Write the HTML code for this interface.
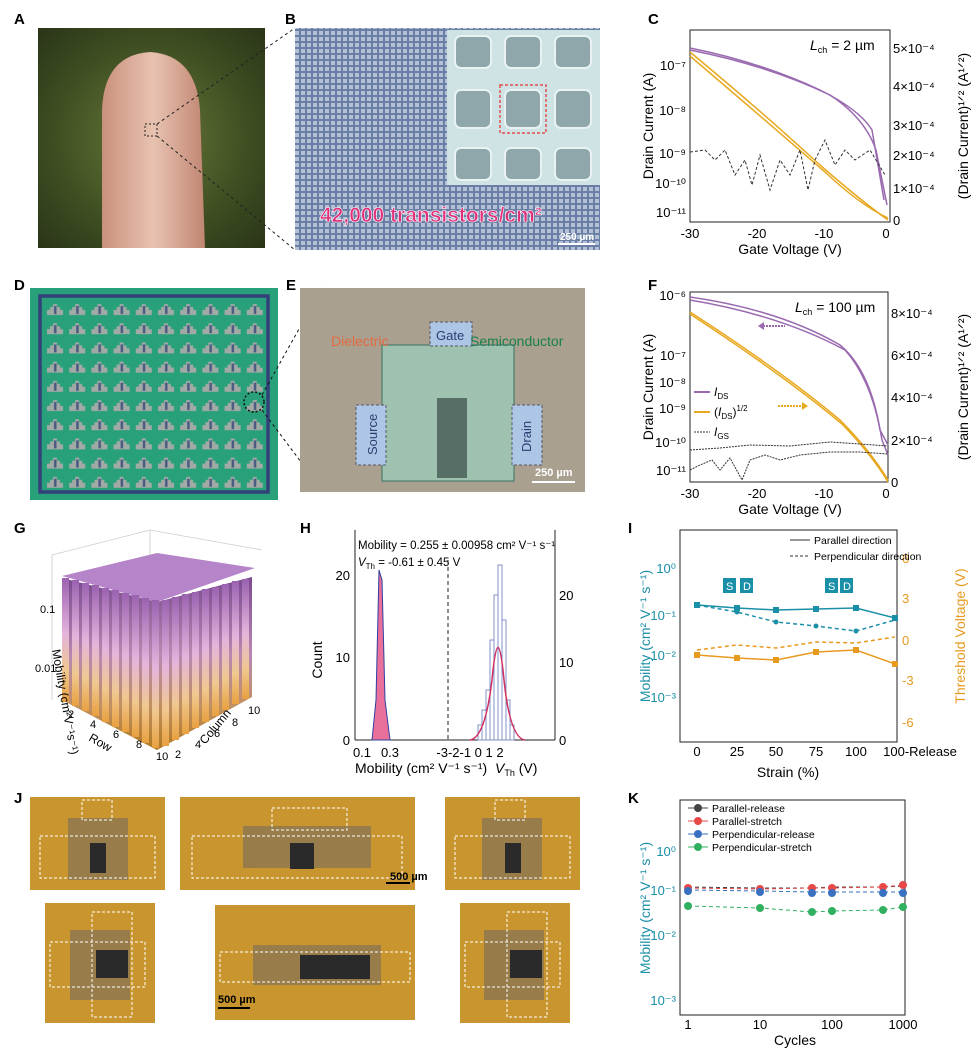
<!DOCTYPE html>
<html><head><meta charset="utf-8"><style>
html,body{margin:0;padding:0;background:#fff;}
svg{display:block;font-family:"Liberation Sans",Arial,sans-serif;}
.lbl{font-size:15px;font-weight:bold;}
.ax{font-size:13px;}
</style></head><body>
<svg width="980" height="1051" viewBox="0 0 980 1051" xmlns="http://www.w3.org/2000/svg">
<defs>
<radialGradient id="bgA" cx="0.5" cy="0.5" r="0.7"><stop offset="0" stop-color="#6b7a3a"/><stop offset="0.6" stop-color="#3f4f22"/><stop offset="1" stop-color="#2a3518"/></radialGradient>
<linearGradient id="fing" x1="0" x2="1"><stop offset="0" stop-color="#c9917c"/><stop offset="0.5" stop-color="#e8c2b0"/><stop offset="1" stop-color="#c08672"/></linearGradient>
<pattern id="grid" width="6" height="6" patternUnits="userSpaceOnUse"><rect width="6" height="6" fill="#6a7fa6"/><rect x="1" y="1" width="4" height="4" fill="#b3c0d6"/></pattern>
<pattern id="gridD" x="44" y="300" width="22.2" height="19.2" patternUnits="userSpaceOnUse"><rect width="22.2" height="19.2" fill="#28a07a"/><path d="M3 15v-5h3v-3h3v-3h4v3h3v3h3v5z" fill="#a2aaa6"/><rect x="10" y="6" width="2.5" height="8" fill="#4a5a80"/></pattern>
<linearGradient id="barL" x1="0" y1="0" x2="0" y2="1"><stop offset="0" stop-color="#9a62b0"/><stop offset="0.45" stop-color="#e4b4dc"/><stop offset="0.75" stop-color="#f0c890"/><stop offset="1" stop-color="#e8a040"/></linearGradient>
<linearGradient id="barD" x1="0" y1="0" x2="0" y2="1"><stop offset="0" stop-color="#7a4a90"/><stop offset="0.45" stop-color="#b888b0"/><stop offset="0.75" stop-color="#c09060"/><stop offset="1" stop-color="#b07820"/></linearGradient>
</defs>

<!-- A -->
<text x="14" y="24" class="lbl">A</text>
<rect x="38" y="28" width="227" height="220" fill="url(#bgA)"/>
<path d="M102 248 L102 110 Q104 55 150 52 Q196 55 200 110 L205 248 Z" fill="url(#fing)"/>
<rect x="145" y="124" width="12" height="12" fill="none" stroke="#222" stroke-dasharray="2,2"/>
<line x1="157" y1="124" x2="295" y2="28" stroke="#222" stroke-dasharray="3,3"/>
<line x1="157" y1="136" x2="295" y2="250" stroke="#222" stroke-dasharray="3,3"/>

<!-- B -->
<text x="285" y="24" class="lbl">B</text>
<rect x="295" y="28" width="305" height="222" fill="url(#grid)"/>
<rect x="447" y="30" width="153" height="155" fill="#cfe2e4"/>
<g fill="#8fa6aa" stroke="#e8f2f2" stroke-width="2">
<rect x="455" y="36" width="36" height="32" rx="6"/><rect x="505" y="36" width="36" height="32" rx="6"/><rect x="555" y="36" width="36" height="32" rx="6"/>
<rect x="455" y="90" width="36" height="38" rx="6"/><rect x="505" y="90" width="36" height="38" rx="6"/><rect x="555" y="90" width="36" height="38" rx="6"/>
<rect x="455" y="148" width="36" height="32" rx="6"/><rect x="505" y="148" width="36" height="32" rx="6"/><rect x="555" y="148" width="36" height="32" rx="6"/>
</g>
<rect x="500" y="85" width="46" height="48" fill="none" stroke="#e05050" stroke-dasharray="3,2" stroke-width="1.5"/>
<text x="320" y="222" font-size="21" font-weight="bold" fill="#e0307a" stroke="#fff" stroke-width="0.6">42,000 transistors/cm²</text>
<text x="560" y="240" font-size="10" fill="#fff" font-weight="bold">250 µm</text>
<line x1="558" y1="244" x2="595" y2="244" stroke="#fff" stroke-width="2"/>

<!-- C -->
<text x="648" y="24" class="lbl">C</text>
<rect x="690" y="30" width="200" height="192" fill="none" stroke="#222"/>
<g class="ax" text-anchor="end">
<text x="686" y="70">10⁻⁷</text><text x="686" y="115">10⁻⁸</text><text x="686" y="158">10⁻⁹</text><text x="686" y="188">10⁻¹⁰</text><text x="686" y="217">10⁻¹¹</text></g>
<g class="ax"><text x="893" y="53">5×10⁻⁴</text><text x="893" y="91">4×10⁻⁴</text><text x="893" y="130">3×10⁻⁴</text><text x="893" y="160">2×10⁻⁴</text><text x="893" y="193">1×10⁻⁴</text><text x="893" y="225">0</text></g>
<g class="ax" text-anchor="middle"><text x="690" y="238">-30</text><text x="757" y="238">-20</text><text x="824" y="238">-10</text><text x="886" y="238">0</text></g>
<text x="790" y="254" font-size="14" text-anchor="middle">Gate Voltage (V)</text>
<text transform="translate(653,126) rotate(-90)" font-size="14" text-anchor="middle">Drain Current (A)</text>
<text transform="translate(968,126) rotate(-90)" font-size="14" text-anchor="middle">(Drain Current)¹ᐟ² (A¹ᐟ²)</text>
<text x="810" y="50" font-size="14"><tspan font-style="italic">L</tspan><tspan font-size="9" dy="3">ch</tspan><tspan dy="-3"> = 2 µm</tspan></text>
<path d="M690 48 Q760 62 820 90 Q860 110 872 130 L884 200" fill="none" stroke="#9a6ab0" stroke-width="1.5"/>
<path d="M690 50 Q770 66 830 95 Q865 118 876 150 L887 205" fill="none" stroke="#9a6ab0" stroke-width="1.5"/>
<path d="M690 52 Q760 110 820 165 Q860 200 888 220" fill="none" stroke="#e8a820" stroke-width="1.5"/>
<path d="M690 56 Q765 120 825 172 Q860 205 888 218" fill="none" stroke="#e8a820" stroke-width="1.5"/>
<path d="M690 152 L705 150 L715 160 L725 150 L735 175 L745 160 L752 185 L760 155 L770 190 L780 160 L790 175 L800 150 L808 190 L815 160 L825 140 L835 165 L845 150 L855 160 L870 150 L885 175" fill="none" stroke="#333" stroke-dasharray="3,2"/>

<!-- D -->
<text x="14" y="290" class="lbl">D</text>
<rect x="30" y="288" width="248" height="212" fill="#28a07a"/>
<rect x="40" y="296" width="228" height="196" fill="url(#gridD)" stroke="#34407a" stroke-width="3.5"/>
<circle cx="254" cy="402" r="10" fill="none" stroke="#111" stroke-dasharray="2,2" stroke-width="1.5"/>
<line x1="262" y1="395" x2="322" y2="288" stroke="#111" stroke-dasharray="3,3"/>
<line x1="262" y1="410" x2="322" y2="490" stroke="#111" stroke-dasharray="3,3"/>

<!-- E -->
<text x="286" y="290" class="lbl">E</text>
<rect x="300" y="288" width="285" height="204" fill="#a9a08f"/>
<rect x="382" y="345" width="132" height="136" fill="#9fc2b0" stroke="#3b7060"/>
<rect x="430" y="322" width="42" height="24" fill="#aec6e6" stroke="#556" stroke-dasharray="3,2"/>
<rect x="356" y="405" width="30" height="60" fill="#aec6e6" stroke="#556" stroke-dasharray="3,2"/>
<rect x="512" y="405" width="30" height="60" fill="#aec6e6" stroke="#556" stroke-dasharray="3,2"/>
<rect x="437" y="398" width="30" height="80" fill="#566e66"/>
<text x="331" y="346" font-size="14" fill="#e46a40">Dielectric</text>
<text x="470" y="346" font-size="14" fill="#188050">Semiconductor</text>
<text x="436" y="340" font-size="13" fill="#2c3c70">Gate</text>
<text transform="translate(377,455) rotate(-90)" font-size="13" fill="#2c3c70">Source</text>
<text transform="translate(531,452) rotate(-90)" font-size="13" fill="#2c3c70">Drain</text>
<text x="535" y="476" font-size="11" fill="#fff" font-weight="bold">250 µm</text>
<line x1="532" y1="482" x2="575" y2="482" stroke="#fff" stroke-width="2"/>

<!-- F -->
<text x="648" y="290" class="lbl">F</text>
<rect x="690" y="292" width="198" height="190" fill="none" stroke="#222"/>
<g class="ax" text-anchor="end"><text x="686" y="300">10⁻⁶</text><text x="686" y="360">10⁻⁷</text><text x="686" y="387">10⁻⁸</text><text x="686" y="413">10⁻⁹</text><text x="686" y="447">10⁻¹⁰</text><text x="686" y="475">10⁻¹¹</text></g>
<g class="ax"><text x="891" y="318">8×10⁻⁴</text><text x="891" y="360">6×10⁻⁴</text><text x="891" y="402">4×10⁻⁴</text><text x="891" y="445">2×10⁻⁴</text><text x="891" y="487">0</text></g>
<g class="ax" text-anchor="middle"><text x="690" y="498">-30</text><text x="757" y="498">-20</text><text x="824" y="498">-10</text><text x="886" y="498">0</text></g>
<text x="790" y="514" font-size="14" text-anchor="middle">Gate Voltage (V)</text>
<text transform="translate(653,387) rotate(-90)" font-size="14" text-anchor="middle">Drain Current (A)</text>
<text transform="translate(968,387) rotate(-90)" font-size="14" text-anchor="middle">(Drain Current)¹ᐟ² (A¹ᐟ²)</text>
<text x="795" y="312" font-size="14"><tspan font-style="italic">L</tspan><tspan font-size="9" dy="3">ch</tspan><tspan dy="-3"> = 100 µm</tspan></text>
<path d="M690 297 Q780 310 840 345 Q870 370 880 430 L888 445" fill="none" stroke="#9a6ab0" stroke-width="1.5"/>
<path d="M690 300 Q780 315 845 350 Q872 380 882 440 L888 455" fill="none" stroke="#9a6ab0" stroke-width="1.5"/>
<path d="M690 312 Q780 370 840 420 Q870 450 888 480" fill="none" stroke="#e8a820" stroke-width="1.5"/>
<path d="M690 314 Q782 374 842 424 Q872 455 888 482" fill="none" stroke="#e8a820" stroke-width="1.5"/>
<line x1="760" y1="326" x2="785" y2="326" stroke="#9a6ab0" stroke-width="2" stroke-dasharray="2,1"/><path d="M758 326 l6 -4 v8z" fill="#9a6ab0"/>
<line x1="778" y1="406" x2="803" y2="406" stroke="#e8a820" stroke-width="2" stroke-dasharray="2,1"/><path d="M808 406 l-6 -4 v8z" fill="#e8a820"/>
<path d="M690 450 L720 448 L750 445 L790 446 L830 442 L860 444 L888 446" fill="none" stroke="#333" stroke-dasharray="2,1"/>
<path d="M690 470 L700 465 L712 460 L720 470 L730 458 L742 480 L750 460 L765 455 L780 460 L800 455 L830 452 L860 452 L888 454" fill="none" stroke="#333" stroke-dasharray="2,1"/>
<line x1="694" y1="392" x2="710" y2="392" stroke="#9a6ab0" stroke-width="2"/><text x="714" y="396" font-size="12"><tspan font-style="italic">I</tspan><tspan font-size="8" dy="3">DS</tspan></text>
<line x1="694" y1="412" x2="710" y2="412" stroke="#e8a820" stroke-width="2"/><text x="714" y="416" font-size="12">(<tspan font-style="italic">I</tspan><tspan font-size="8" dy="3">DS</tspan><tspan dy="-3">)</tspan><tspan font-size="8" dy="-5">1/2</tspan></text>
<line x1="694" y1="432" x2="710" y2="432" stroke="#333" stroke-dasharray="2,1"/><text x="714" y="436" font-size="12"><tspan font-style="italic">I</tspan><tspan font-size="8" dy="3">GS</tspan></text>

<!-- G -->
<text x="14" y="533" class="lbl">G</text>
<g stroke="#ccc" fill="none" stroke-width="0.8"><path d="M52 555 L150 530 L262 550"/><path d="M150 530 L150 670"/><path d="M52 555 L52 700"/></g>
<path d="M62 576 L157 553 L255 568 L157 602 Z" fill="#b684c8"/>
<path d="M62 578 L157 602 L157 750 L62 700 Z" fill="url(#barD)"/>
<path d="M157 602 L252 577 L252 697 L157 750 Z" fill="url(#barD)"/>
<g fill="url(#barL)">
<path d="M62 578 h7 v124 h-7z"/><path d="M72 580 h7 v126 h-7z"/><path d="M82 583 h7 v128 h-7z"/><path d="M92 585 h7 v131 h-7z"/><path d="M102 588 h7 v134 h-7z"/><path d="M112 590 h7 v137 h-7z"/><path d="M122 593 h7 v139 h-7z"/><path d="M132 595 h7 v142 h-7z"/><path d="M142 598 h7 v145 h-7z"/><path d="M152 600 h7 v148 h-7z"/>
<path d="M162 600 h7 v146 h-7z"/><path d="M172 597 h7 v143 h-7z"/><path d="M182 594 h7 v140 h-7z"/><path d="M192 592 h7 v136 h-7z"/><path d="M202 589 h7 v133 h-7z"/><path d="M212 587 h7 v129 h-7z"/><path d="M222 584 h7 v126 h-7z"/><path d="M232 581 h7 v123 h-7z"/><path d="M242 579 h7 v120 h-7z"/>
</g>
<text x="40" y="613" font-size="11">0.1</text>
<text x="35" y="672" font-size="11">0.01</text>
<text transform="translate(52,650) rotate(80)" font-size="12">Mobility (cm²V⁻¹s⁻¹)</text>
<g font-size="11"><text x="68" y="718">2</text><text x="90" y="728">4</text><text x="113" y="738">6</text><text x="136" y="748">8</text><text x="156" y="760">10</text>
<text x="175" y="758">2</text><text x="195" y="748">4</text><text x="214" y="737">6</text><text x="232" y="726">8</text><text x="248" y="714">10</text></g>
<text transform="translate(88,740) rotate(30)" font-size="12">Row</text>
<text transform="translate(205,745) rotate(-50)" font-size="12">Column</text>

<!-- H -->
<text x="300" y="533" class="lbl">H</text>
<line x1="355" y1="530" x2="355" y2="740" stroke="#222"/><line x1="355" y1="740" x2="555" y2="740" stroke="#222"/><line x1="555" y1="530" x2="555" y2="740" stroke="#222"/>
<g class="ax" text-anchor="end"><text x="350" y="580">20</text><text x="350" y="662">10</text><text x="350" y="745">0</text></g>
<g class="ax"><text x="559" y="600">20</text><text x="559" y="667">10</text><text x="559" y="745">0</text></g>
<text transform="translate(322,660) rotate(-90)" font-size="14" text-anchor="middle">Count</text>
<text x="358" y="549" font-size="11.5">Mobility = 0.255 ± 0.00958 cm² V⁻¹ s⁻¹</text>
<text x="358" y="566" font-size="11.5"><tspan font-style="italic">V</tspan><tspan font-size="8" dy="3">Th</tspan><tspan dy="-3"> = -0.61 ± 0.45 V</tspan></text>
<path d="M372 740 L376 700 L379 570 L382 580 L385 700 L390 740 Z" fill="#e8709a" stroke="#3040a0"/>
<line x1="448" y1="560" x2="448" y2="740" stroke="#222" stroke-dasharray="4,3"/>
<g fill="none" stroke="#8090c8"><rect x="478" y="725" width="4" height="15"/><rect x="482" y="710" width="4" height="30"/><rect x="486" y="690" width="4" height="50"/><rect x="490" y="640" width="4" height="100"/><rect x="494" y="595" width="4" height="145"/><rect x="498" y="565" width="4" height="175"/><rect x="502" y="620" width="4" height="120"/><rect x="506" y="700" width="4" height="40"/><rect x="510" y="725" width="4" height="15"/></g>
<path d="M470 740 Q485 738 492 680 Q498 615 504 680 Q510 738 525 740" fill="none" stroke="#d03060" stroke-width="1.5"/>
<g class="ax" text-anchor="middle"><text x="362" y="757">0.1</text><text x="390" y="757">0.3</text><text x="470" y="757">-3-2-1 0 1 2</text></g>
<text x="355" y="773" font-size="14">Mobility (cm² V⁻¹ s⁻¹)</text>
<text x="495" y="773" font-size="14"><tspan font-style="italic">V</tspan><tspan font-size="9" dy="3">Th</tspan><tspan dy="-3"> (V)</tspan></text>

<!-- I -->
<text x="628" y="533" class="lbl">I</text>
<rect x="680" y="530" width="217" height="212" fill="none" stroke="#222"/>
<g class="ax" text-anchor="end" fill="#1a8fa8"><text x="676" y="573">10⁰</text><text x="676" y="620">10⁻¹</text><text x="676" y="660">10⁻²</text><text x="676" y="702">10⁻³</text></g>
<g class="ax" fill="#e89a20"><text x="902" y="563">6</text><text x="902" y="603">3</text><text x="902" y="645">0</text><text x="902" y="685">-3</text><text x="902" y="727">-6</text></g>
<text transform="translate(650,636) rotate(-90)" font-size="14" text-anchor="middle" fill="#1a8fa8">Mobility (cm² V⁻¹ s⁻¹)</text>
<text transform="translate(965,636) rotate(-90)" font-size="14" text-anchor="middle" fill="#e89a20">Threshold Voltage (V)</text>
<g class="ax" text-anchor="middle"><text x="697" y="756">0</text><text x="737" y="756">25</text><text x="776" y="756">50</text><text x="816" y="756">75</text><text x="856" y="756">100</text><text x="920" y="756">100-Release</text></g>
<text x="788" y="777" font-size="14" text-anchor="middle">Strain (%)</text>
<line x1="790" y1="540" x2="810" y2="540" stroke="#333"/><text x="814" y="544" font-size="10.5">Parallel direction</text>
<line x1="790" y1="556" x2="810" y2="556" stroke="#333" stroke-dasharray="3,2"/><text x="814" y="560" font-size="10.5">Perpendicular direction</text>
<polyline points="697,605 737,608 776,610 816,609 856,608 895,618" fill="none" stroke="#1a8fa8" stroke-width="1.5"/>
<polyline points="697,605 737,612 776,622 816,626 856,631 895,620" fill="none" stroke="#1a8fa8" stroke-width="1.5" stroke-dasharray="4,3"/>
<g fill="#1a8fa8"><rect x="694" y="602" width="6" height="6"/><rect x="734" y="605" width="6" height="6"/><rect x="773" y="607" width="6" height="6"/><rect x="813" y="606" width="6" height="6"/><rect x="853" y="605" width="6" height="6"/><rect x="892" y="615" width="6" height="6"/><circle cx="737" cy="612" r="2.5"/><circle cx="776" cy="622" r="2.5"/><circle cx="816" cy="626" r="2.5"/><circle cx="856" cy="631" r="2.5"/></g>
<polyline points="697,655 737,658 776,660 816,652 856,650 895,664" fill="none" stroke="#e89a20" stroke-width="1.5"/>
<polyline points="697,650 737,645 776,648 816,642 856,643 895,637" fill="none" stroke="#e89a20" stroke-width="1.5" stroke-dasharray="4,3"/>
<g fill="#e89a20"><rect x="694" y="652" width="6" height="6"/><rect x="734" y="655" width="6" height="6"/><rect x="773" y="657" width="6" height="6"/><rect x="813" y="649" width="6" height="6"/><rect x="853" y="647" width="6" height="6"/><rect x="892" y="661" width="6" height="6"/></g>
<g fill="#1a8fa8"><rect x="723" y="578" width="13" height="15"/><rect x="740" y="578" width="13" height="15"/><rect x="825" y="578" width="13" height="15"/><rect x="840" y="578" width="13" height="15"/></g>
<g fill="#fff" font-size="11"><text x="726" y="590">S</text><text x="743" y="590">D</text><text x="828" y="590">S</text><text x="843" y="590">D</text></g>

<!-- J -->
<text x="14" y="803" class="lbl">J</text>
<g fill="#c8952e"><rect x="30" y="797" width="135" height="93"/><rect x="180" y="797" width="235" height="93"/><rect x="445" y="797" width="135" height="93"/><rect x="45" y="903" width="110" height="120"/><rect x="215" y="905" width="200" height="115"/><rect x="460" y="903" width="110" height="120"/></g>
<g fill="#8c7550" opacity="0.8"><rect x="68" y="818" width="60" height="62"/><rect x="243" y="826" width="128" height="42"/><rect x="482" y="818" width="60" height="62"/><rect x="70" y="930" width="60" height="70"/><rect x="253" y="945" width="128" height="40"/><rect x="484" y="930" width="60" height="70"/></g>
<g fill="none" stroke="#fff" stroke-dasharray="3,2"><rect x="40" y="836" width="115" height="42"/><rect x="82" y="800" width="30" height="20"/><rect x="192" y="836" width="210" height="42"/><rect x="272" y="808" width="75" height="22"/><rect x="455" y="836" width="115" height="42"/><rect x="495" y="800" width="30" height="20"/><rect x="50" y="942" width="95" height="45"/><rect x="92" y="912" width="40" height="105"/><rect x="220" y="952" width="190" height="30"/><rect x="465" y="942" width="95" height="45"/><rect x="507" y="912" width="40" height="105"/></g>
<g fill="#2a2a2a"><rect x="90" y="843" width="16" height="30"/><rect x="290" y="843" width="24" height="26"/><rect x="505" y="843" width="16" height="30"/><rect x="96" y="950" width="32" height="28"/><rect x="300" y="955" width="70" height="24"/><rect x="510" y="950" width="32" height="28"/></g>
<text x="390" y="880" font-size="11" font-weight="bold">500 µm</text><line x1="386" y1="883" x2="410" y2="883" stroke="#000" stroke-width="2"/>
<text x="218" y="1003" font-size="11" font-weight="bold">500 µm</text><line x1="218" y1="1008" x2="250" y2="1008" stroke="#000" stroke-width="2"/>

<!-- K -->
<text x="628" y="803" class="lbl">K</text>
<rect x="680" y="800" width="225" height="215" fill="none" stroke="#222"/>
<g class="ax" text-anchor="end" fill="#1a8fa8"><text x="676" y="856">10⁰</text><text x="676" y="895">10⁻¹</text><text x="676" y="940">10⁻²</text><text x="676" y="1005">10⁻³</text></g>
<text transform="translate(650,908) rotate(-90)" font-size="14" text-anchor="middle" fill="#1a8fa8">Mobility (cm² V⁻¹ s⁻¹)</text>
<g class="ax" text-anchor="middle"><text x="688" y="1029">1</text><text x="760" y="1029">10</text><text x="832" y="1029">100</text><text x="903" y="1029">1000</text></g>
<text x="795" y="1045" font-size="14" text-anchor="middle">Cycles</text>
<g font-size="10.5"><circle cx="698" cy="808" r="4" fill="#444"/><line x1="688" y1="808" x2="708" y2="808" stroke="#444"/><text x="712" y="812">Parallel-release</text>
<circle cx="698" cy="821" r="4" fill="#e84848"/><line x1="688" y1="821" x2="708" y2="821" stroke="#e84848"/><text x="712" y="825">Parallel-stretch</text>
<circle cx="698" cy="834" r="4" fill="#3a70c0"/><line x1="688" y1="834" x2="708" y2="834" stroke="#3a70c0"/><text x="712" y="838">Perpendicular-release</text>
<circle cx="698" cy="847" r="4" fill="#30b060"/><line x1="688" y1="847" x2="708" y2="847" stroke="#30b060"/><text x="712" y="851">Perpendicular-stretch</text></g>
<polyline points="688,887 760,888 812,888 832,887 883,887 903,886" fill="none" stroke="#444" stroke-dasharray="4,3"/>
<polyline points="688,888 760,889 812,888 832,888 883,887 903,885" fill="none" stroke="#e84848" stroke-dasharray="4,3"/>
<polyline points="688,890 760,891 812,892 832,892 883,892 903,892" fill="none" stroke="#3a70c0" stroke-dasharray="4,3"/>
<polyline points="688,906 760,908 812,912 832,911 883,910 903,907" fill="none" stroke="#30b060" stroke-dasharray="4,3"/>
<g><circle cx="688" cy="888" r="4" fill="#e84848"/><circle cx="760" cy="889" r="4" fill="#e84848"/><circle cx="812" cy="888" r="4" fill="#e84848"/><circle cx="832" cy="888" r="4" fill="#e84848"/><circle cx="883" cy="887" r="4" fill="#e84848"/><circle cx="903" cy="885" r="4" fill="#e84848"/>
<circle cx="688" cy="891" r="4" fill="#3a70c0"/><circle cx="760" cy="892" r="4" fill="#3a70c0"/><circle cx="812" cy="893" r="4" fill="#3a70c0"/><circle cx="832" cy="893" r="4" fill="#3a70c0"/><circle cx="883" cy="893" r="4" fill="#3a70c0"/><circle cx="903" cy="893" r="4" fill="#3a70c0"/>
<circle cx="688" cy="906" r="4" fill="#30b060"/><circle cx="760" cy="908" r="4" fill="#30b060"/><circle cx="812" cy="912" r="4" fill="#30b060"/><circle cx="832" cy="911" r="4" fill="#30b060"/><circle cx="883" cy="910" r="4" fill="#30b060"/><circle cx="903" cy="907" r="4" fill="#30b060"/></g>
</svg>
</body></html>
